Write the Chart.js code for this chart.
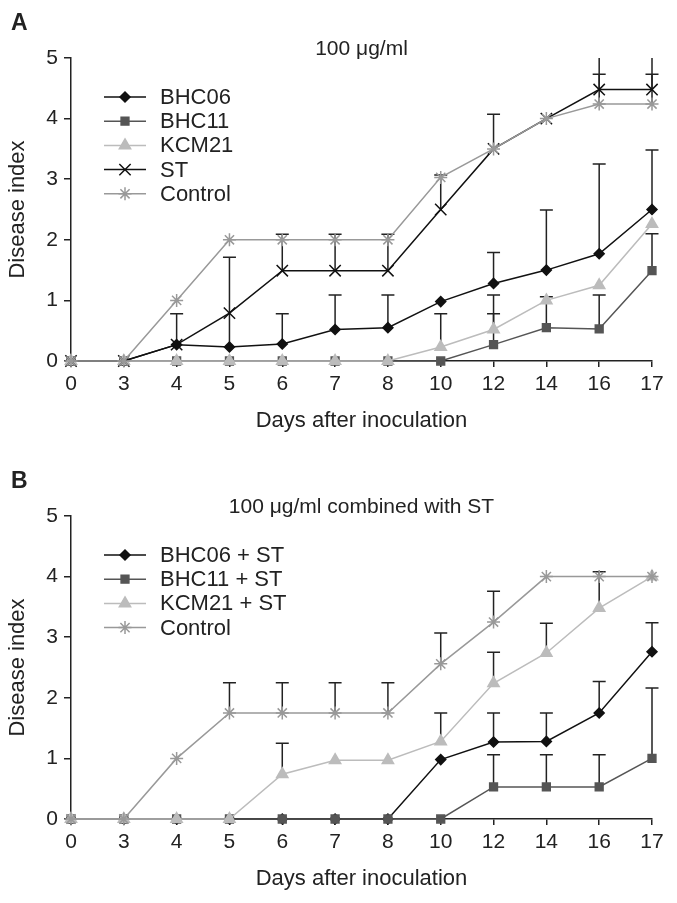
<!DOCTYPE html>
<html>
<head>
<meta charset="utf-8">
<script src="https://cdn.jsdelivr.net/npm/chart.js@4.4.1/dist/chart.umd.min.js"></script>
<style>
  html, body { margin: 0; padding: 0; background: #fff; overflow: hidden; }
  canvas { display: block; }
</style>
</head>
<body>
<canvas id="chartA" width="677" height="458"></canvas>
<canvas id="chartB" width="677" height="458"></canvas>
<script>
// x categories (days after inoculation), evenly spaced in the figure
const days = ['0', '3', '4', '5', '6', '7', '8', '10', '12', '14', '16', '17'];

// Panel A: 100 ug/ml
const bhc06A = [0, 0, 0.27, 0.23, 0.28, 0.52, 0.55, 0.98, 1.28, 1.5, 1.77, 2.5];
const bhc06AErr = [null, null, 0.51, 1.48, 0.5, 0.57, 0.54, null, 0.51, 0.99, 1.48, 0.98];
const bhc11A = [0, 0, 0, 0, 0, 0, 0, 0, 0.27, 0.55, 0.53, 1.49];
const bhc11AErr = [null, null, null, null, null, null, null, null, 0.51, 0.51, 0.56, 0.61];
const kcm21A = [0, 0, 0, 0, 0, 0, 0, 0.23, 0.52, 1.0, 1.25, 2.26];
const kcm21AErr = [null, null, null, null, null, null, null, 0.55, 0.57, null, null, null];
const stA = [0, 0, 0.27, 0.79, 1.49, 1.49, 1.49, 2.5, 3.5, 4.0, 4.48, 4.48];
const stAErr = [null, null, null, null, 0.6, 0.6, 0.6, 0.57, 0.57, null, 0.9, 0.9];
const controlA = [0, 0, 1.0, 2.0, 2.0, 2.0, 2.0, 3.03, 3.5, 4.0, 4.24, 4.24];
const controlAErr = [null, null, null, null, null, null, null, null, null, null, 0.49, 0.49];

// Panel B: 100 ug/ml combined with ST
const bhc06B = [0, 0, 0, 0, 0, 0, 0, 0.98, 1.27, 1.28, 1.75, 2.76];
const bhc06BErr = [null, null, null, null, null, null, null, null, 0.48, 0.47, 0.52, 0.48];
const bhc11B = [0, 0, 0, 0, 0, 0, 0, 0, 0.53, 0.53, 0.53, 1.0];
const bhc11BErr = [null, null, null, null, null, null, null, null, 0.53, 0.53, 0.53, 1.16];
const kcm21B = [0, 0, 0, 0, 0.74, 0.97, 0.97, 1.28, 2.24, 2.74, 3.48, 4.0];
const kcm21BErr = [null, null, null, null, 0.51, null, null, 0.47, 0.51, 0.49, 0.6, null];
const controlB = [0, 0, 1.0, 1.75, 1.75, 1.75, 1.75, 2.56, 3.25, 4.0, 4.0, 4.0];
const controlBErr = [null, null, null, 0.5, 0.5, 0.5, 0.5, 0.51, 0.51, null, null, null];

const FONT = "'Liberation Sans', Arial, sans-serif";
const INK = '#222';

const styles = {
    bhc06: { color: '#111', pointStyle: 'rectRot', radius: 5 },
    bhc11: { color: '#555', pointStyle: 'rect', radius: 5.5 },
    kcm21: { color: '#bcbcbc', pointStyle: 'triangle', radius: 6.5 },
    st: { color: '#111', pointStyle: 'crossRot', radius: 8 },
    control: { color: '#999', pointStyle: 'star', radius: 6.5 }
};

function makeDataset(label, data, errors, style, order) {
    return {
        label: label,
        data: data,
        errors: errors,
        borderColor: style.color,
        backgroundColor: style.color,
        borderWidth: 1.5,
        pointStyle: style.pointStyle,
        pointRadius: style.radius,
        pointBorderWidth: 1.5,
        pointBackgroundColor: style.color,
        pointBorderColor: style.color,
        tension: 0,
        clip: false,
        order: order
    };
}

// upward-only error bars with a flat cap
const errorBarPlugin = {
    id: 'errorBars',
    beforeDatasetsDraw(chart) {
        const ctx = chart.ctx;
        const yScale = chart.scales.y;
        const area = chart.chartArea;
        ctx.save();
        ctx.beginPath();
        ctx.rect(0, area.top, chart.width, chart.height - area.top);
        ctx.clip();
        ctx.strokeStyle = INK;
        ctx.lineWidth = 1.5;
        chart.data.datasets.forEach((ds, i) => {
            if (!ds.errors) return;
            const meta = chart.getDatasetMeta(i);
            meta.data.forEach((pt, j) => {
                const e = ds.errors[j];
                if (e == null) return;
                const top = yScale.getPixelForValue(ds.data[j] + e);
                ctx.beginPath();
                ctx.moveTo(pt.x, pt.y);
                ctx.lineTo(pt.x, top);
                ctx.moveTo(pt.x - 6.5, top);
                ctx.lineTo(pt.x + 6.5, top);
                ctx.stroke();
            });
        });
        ctx.restore();
    }
};

// panel letter, title and the in-plot legend
const decorPlugin = {
    id: 'decor',
    afterDraw(chart, args, opts) {
        const ctx = chart.ctx;
        const area = chart.chartArea;
        ctx.save();
        ctx.fillStyle = INK;
        ctx.textBaseline = 'middle';

        ctx.font = 'bold 23px ' + FONT;
        ctx.textAlign = 'left';
        ctx.fillText(opts.letter, 11, 24);

        ctx.font = '21px ' + FONT;
        ctx.textAlign = 'center';
        ctx.fillText(opts.title, (area.left + area.right) / 2, 49);

        ctx.font = '22px ' + FONT;
        ctx.textAlign = 'left';
        chart.data.datasets.forEach((ds, i) => {
            const y = 97 + i * 24.2;
            ctx.strokeStyle = ds.borderColor;
            ctx.lineWidth = 1.5;
            ctx.beginPath();
            ctx.moveTo(104, y);
            ctx.lineTo(146, y);
            ctx.stroke();
            ctx.fillStyle = ds.pointBackgroundColor;
            ctx.strokeStyle = ds.pointBorderColor;
            Chart.helpers.drawPoint(ctx, {
                pointStyle: ds.pointStyle,
                radius: ds.pointRadius,
                borderWidth: 1.5,
                rotation: 0
            }, 125, y);
            ctx.fillStyle = INK;
            ctx.fillText(ds.label, 160, y + 1);
        });
        ctx.restore();
    }
};

function renderPanel(canvasId, letter, title, datasets) {
    const ctx = document.getElementById(canvasId).getContext('2d');
    return new Chart(ctx, {
        type: 'line',
        data: {
            labels: days,
            datasets: datasets
        },
        plugins: [errorBarPlugin, decorPlugin],
        options: {
            responsive: false,
            animation: false,
            layout: { padding: { top: 58, right: 25, bottom: 0, left: 0 } },
            scales: {
                x: {
                    type: 'category',
                    offset: false,
                    afterFit: (scale) => { scale.height = 458 - 361; },
                    grid: { drawOnChartArea: false, drawTicks: true, tickLength: 6, color: INK, lineWidth: 1.5 },
                    border: { display: true, color: INK, width: 1.5 },
                    ticks: {
                        color: INK,
                        font: { family: FONT, size: 21 },
                        padding: 5,
                        autoSkip: false,
                        maxRotation: 0
                    },
                    title: {
                        display: true,
                        text: 'Days after inoculation',
                        color: INK,
                        font: { family: FONT, size: 22 },
                        padding: { top: 0, bottom: 24 }
                    }
                },
                y: {
                    min: 0,
                    max: 5,
                    afterFit: (scale) => { scale.width = 71; },
                    grid: { drawOnChartArea: false, drawTicks: true, tickLength: 7, color: INK, lineWidth: 1.5 },
                    border: { display: true, color: INK, width: 1.5 },
                    ticks: {
                        stepSize: 1,
                        color: INK,
                        font: { family: FONT, size: 21 },
                        padding: 6
                    },
                    title: {
                        display: true,
                        text: 'Disease index',
                        color: INK,
                        font: { family: FONT, size: 22 },
                        padding: { top: 5, bottom: 0 }
                    }
                }
            },
            plugins: {
                legend: { display: false },
                tooltip: { enabled: false },
                decor: { letter: letter, title: title }
            }
        }
    });
}

renderPanel('chartA', 'A', '100 \u03bcg/ml', [
    makeDataset('BHC06', bhc06A, bhc06AErr, styles.bhc06, 5),
    makeDataset('BHC11', bhc11A, bhc11AErr, styles.bhc11, 4),
    makeDataset('KCM21', kcm21A, kcm21AErr, styles.kcm21, 3),
    makeDataset('ST', stA, stAErr, styles.st, 2),
    makeDataset('Control', controlA, controlAErr, styles.control, 1)
]);

renderPanel('chartB', 'B', '100 \u03bcg/ml combined with ST', [
    makeDataset('BHC06 + ST', bhc06B, bhc06BErr, styles.bhc06, 5),
    makeDataset('BHC11 + ST', bhc11B, bhc11BErr, styles.bhc11, 4),
    makeDataset('KCM21 + ST', kcm21B, kcm21BErr, styles.kcm21, 3),
    makeDataset('Control', controlB, controlBErr, styles.control, 1)
]);
</script>
</body>
</html>
